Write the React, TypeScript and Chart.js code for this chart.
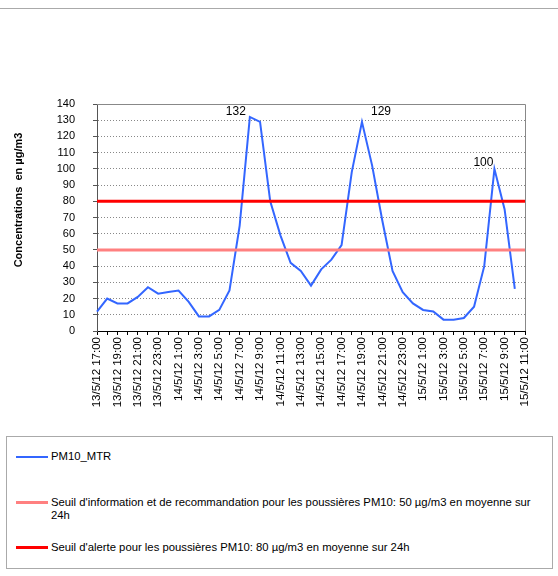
import React, { useEffect, useRef } from "react";
import { Chart, registerables } from "chart.js";

Chart.register(...registerables);

const days: string[] = ["13/5/12", "14/5/12", "15/5/12"];
const hoursDay1: number[] = [17, 18, 19, 20, 21, 22, 23];
const hoursDay2: number[] = Array.from({ length: 24 }, (_, i) => i);
const hoursDay3: number[] = [0, 1, 2, 3, 4, 5, 6, 7, 8, 9, 10, 11];

const categories: string[] = [
  ...hoursDay1.map((h) => `${days[0]} ${h}:00`),
  ...hoursDay2.map((h) => `${days[1]} ${h}:00`),
  ...hoursDay3.map((h) => `${days[2]} ${h}:00`),
];

const pm10: (number | null)[] = [
  12, 20, 17, 17, 21, 27, 23,
  24, 25, 18, 9, 9, 13, 25, 65, 132, 129, 80, 59, 42, 37, 28, 38, 44, 53, 98, 129, 102, 68, 37, 24,
  17, 13, 12, 7, 7, 8, 15, 40, 100, 75, 26, null,
];

const infoThreshold = 50;
const alertThreshold = 80;

const seriesNames: string[] = [
  "PM10_MTR",
  "Seuil d'information et de recommandation pour les poussières PM10: 50 µg/m3 en moyenne sur 24h",
  "Seuil d'alerte pour les poussières PM10: 80 µg/m3 en moyenne sur 24h",
];

const yTitle = "Concentrations  en µg/m3";

// labelled peaks: index into pm10
const peakIndices: number[] = [15, 26, 39];

const FONT = "Arial, 'Liberation Sans', sans-serif";
const BLUE = "#3366FF";
const PINK = "#FF8080";
const RED = "#FF0000";

export default function App() {
  const canvasRef = useRef<HTMLCanvasElement | null>(null);

  useEffect(() => {
    if (!canvasRef.current) return;
    const labelOffsets: { dx: number; dy: number; align: CanvasTextAlign }[] = [
      { dx: -4, dy: 0, align: "right" },
      { dx: 9, dy: -5, align: "left" },
      { dx: -1, dy: -1, align: "right" },
    ];
    const extras = {
      id: "extras",
      afterDraw(chart: any) {
        const ctx = chart.ctx;
        const area = chart.chartArea;
        ctx.save();
        // top & right border
        ctx.strokeStyle = "#888888";
        ctx.lineWidth = 1;
        ctx.setLineDash([]);
        ctx.beginPath();
        ctx.moveTo(area.left, area.top + 0.5);
        ctx.lineTo(area.right + 0.5, area.top + 0.5);
        ctx.lineTo(area.right + 0.5, area.bottom);
        ctx.stroke();
        // peak labels
        const meta = chart.getDatasetMeta(2);
        ctx.fillStyle = "#000";
        ctx.font = `12px ${FONT}`;
        ctx.textBaseline = "bottom";
        peakIndices.forEach((idx, k) => {
          const pt = meta.data[idx];
          const o = labelOffsets[k];
          ctx.textAlign = o.align;
          ctx.fillText(String(pm10[idx]), pt.x + o.dx, pt.y + o.dy + 1);
        });
        // y title
        ctx.translate(19, 200);
        ctx.rotate(-Math.PI / 2);
        ctx.font = `bold 11px ${FONT}`;
        ctx.textAlign = "center";
        ctx.textBaseline = "middle";
        ctx.fillText(yTitle, 0, 0);
        ctx.restore();
      },
    };
    const chart = new Chart(canvasRef.current, {
      type: "line",
      data: {
        labels: categories,
        datasets: [
          {
            label: seriesNames[1],
            data: categories.map(() => infoThreshold),
            borderColor: PINK,
            borderWidth: 3,
            pointRadius: 0,
          },
          {
            label: seriesNames[2],
            data: categories.map(() => alertThreshold),
            borderColor: RED,
            borderWidth: 3,
            pointRadius: 0,
          },
          {
            label: seriesNames[0],
            data: pm10,
            borderColor: BLUE,
            borderWidth: 2,
            pointRadius: 0,
            spanGaps: false,
          },
        ],
      },
      options: {
        animation: false,
        responsive: false,
        maintainAspectRatio: false,
        layout: { padding: { top: 104, left: 0, right: 33, bottom: 0 } },
        plugins: { legend: { display: false }, tooltip: { enabled: false } },
        scales: {
          x: {
            offset: false,
            afterFit: (s: any) => {
              s.height = 99;
            },
            border: { color: "#000", width: 1 },
            grid: {
              drawOnChartArea: false,
              drawTicks: true,
              tickLength: 4,
              tickColor: "#000",
            },
            ticks: {
              autoSkip: false,
              maxRotation: 90,
              minRotation: 90,
              padding: 2,
              color: "#000",
              font: { family: FONT, size: 11.5 },
              callback: (_v: any, i: number) => (i % 2 === 0 ? categories[i] : ""),
            },
          },
          y: {
            min: 0,
            max: 140,
            afterFit: (s: any) => {
              s.width = 97;
            },
            border: { color: "#555", width: 1, dash: [1, 2] },
            grid: {
              color: "#888",
              tickColor: "#555",
              tickBorderDash: [],
              tickLength: 4,
              drawTicks: true,
            } as any,
            ticks: {
              stepSize: 10,
              padding: 18,
              color: "#000",
              font: { family: FONT, size: 11 },
            },
          },
        },
      },
      plugins: [extras],
    } as any);
    return () => chart.destroy();
  }, []);

  return (
    <div
      style={{
        position: "fixed",
        left: 0,
        top: 0,
        width: 558,
        height: 576,
        background: "#fff",
        fontFamily: FONT,
        overflow: "hidden",
      }}
    >
      <div style={{ position: "absolute", left: 0, top: 8, width: 558, height: 1, background: "#aaa" }} />
      <canvas
        ref={canvasRef}
        width={558}
        height={430}
        style={{ position: "absolute", left: 0, top: 0, width: 558, height: 430 }}
      />
      <div
        style={{
          position: "absolute",
          left: 6,
          top: 436,
          width: 545,
          height: 131,
          border: "1px solid #aaa",
          fontSize: 11.3,
          color: "#000",
        }}
      >
        <div style={{ position: "absolute", top: 13, left: 0, width: 545 }}>
          <span style={{ position: "absolute", top: 6, left: 9, width: 32, height: 2, background: BLUE }} />
          <div style={{ position: "absolute", left: 44, top: 0, lineHeight: "13px" }}>{seriesNames[0]}</div>
        </div>
        <div style={{ position: "absolute", top: 59, left: 0, width: 545 }}>
          <span style={{ position: "absolute", top: 5, left: 9, width: 32, height: 3, background: PINK }} />
          <div style={{ position: "absolute", left: 44, top: 0, lineHeight: "13px", whiteSpace: "nowrap" }}>
            {"Seuil d'information et de recommandation pour les poussières PM10: 50 µg/m3 en moyenne sur"}
            <br />
            {"24h"}
          </div>
        </div>
        <div style={{ position: "absolute", top: 104, left: 0, width: 545 }}>
          <span style={{ position: "absolute", top: 5, left: 9, width: 32, height: 3, background: RED }} />
          <div style={{ position: "absolute", left: 44, top: 0, lineHeight: "13px" }}>{seriesNames[2]}</div>
        </div>
      </div>
    </div>
  );
}
